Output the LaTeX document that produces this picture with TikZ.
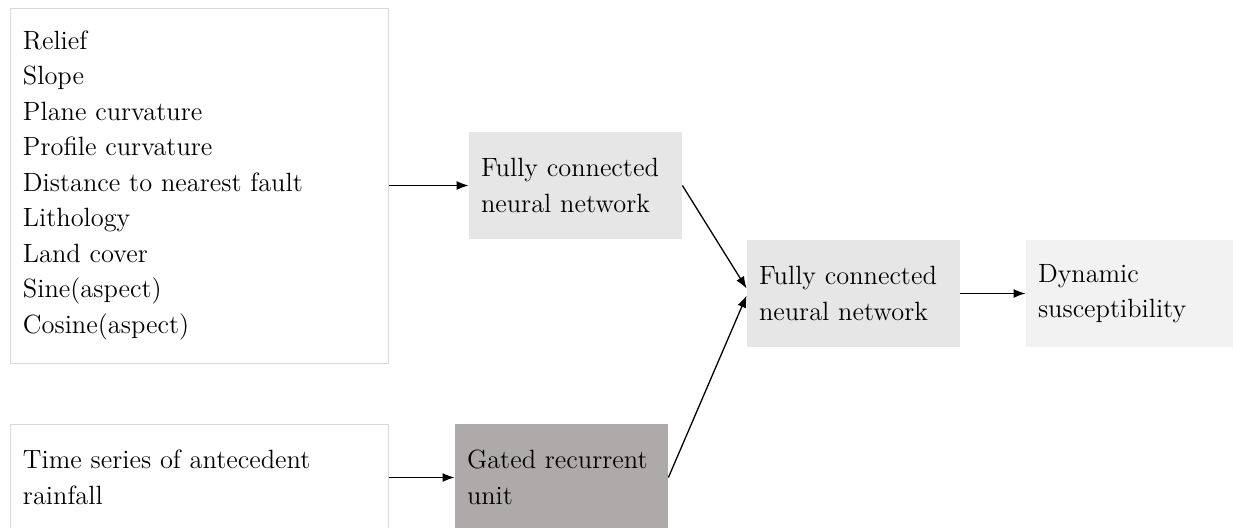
\documentclass[tikz,border=0pt]{standalone}
\usetikzlibrary{arrows.meta}
\definecolor{bordergray}{HTML}{D9D9D9}
\definecolor{fclight}{HTML}{E7E6E6}
\definecolor{grudark}{HTML}{AEAAAA}
\definecolor{dynlight}{HTML}{F2F2F2}
\begin{document}
\begin{tikzpicture}[x=0.5pt,y=-0.5pt,
  every node/.style={font=\fontsize{13.2pt}{17.75pt}\selectfont},
  inbox/.style={draw=bordergray, line width=0.5pt, align=left, inner xsep=6.5pt, inner ysep=0pt, text width=176pt, minimum height=#1, anchor=center},
  procbox/.style={align=left, inner xsep=6pt, inner ysep=0pt, text width=94.5pt, minimum height=53.5pt, anchor=center},
  arr/.style={-{Latex[length=6pt,width=4.5pt]}, line width=0.65pt, black}
]
\useasboundingbox (0,0) rectangle (1233,527);
\node[inbox=177.5pt] (feat) at (199,185.5) {Relief\\Slope\\Plane curvature\\Profile curvature\\Distance to nearest fault\\Lithology\\Land cover\\Sine(aspect)\\Cosine(aspect)};
\node[inbox=53.5pt] (ts) at (199,477.5) {Time series of antecedent\\rainfall};
\node[procbox, fill=fclight] (fc1) at (575.5,185.5) {Fully connected\\neural network};
\node[procbox, fill=grudark] (gru) at (561.5,477.5) {Gated recurrent\\unit};
\node[procbox, fill=fclight] (fc2) at (853.5,293.5) {Fully connected\\neural network};
\node[procbox, fill=dynlight] (dyn) at (1132.5,293.5) {Dynamic\\susceptibility};
\draw[arr] (feat.east) -- (fc1.west);
\draw[arr] (ts.east) -- (gru.west);
\draw[arr] (fc1.east) -- ([yshift=2.5pt]fc2.west);
\draw[arr] (gru.east) -- ([yshift=-1pt]fc2.west);
\draw[arr] (fc2.east) -- (dyn.west);
\end{tikzpicture}
\end{document}
